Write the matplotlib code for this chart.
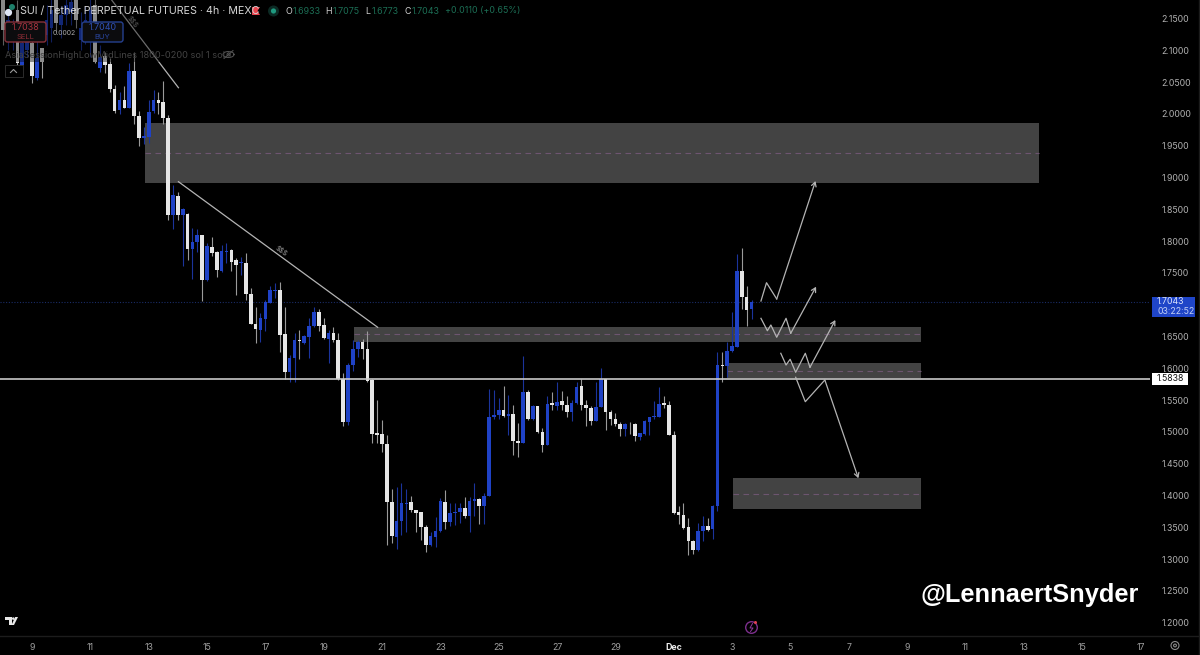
#!/usr/bin/env python3

# SUI / USDT 4h candles with supply/demand zones, dark tradingview style
import numpy as np
import matplotlib
matplotlib.use('Agg')
import matplotlib.pyplot as plt
from matplotlib.patches import Rectangle, FancyBboxPatch, Circle, Polygon

plt.rcParams['font.family'] = ['Inter', 'DejaVu Sans']

# candles. x runs in days counted from 1 Nov (Dec 1 = 31)
opens = [2.179, 2.116, 2.116, 2.163, 2.075, 2.101, 2.112, 2.057, 2.104, 2.124, 2.135, 2.179, 2.140, 2.156, 2.160, 2.179, 2.116, 2.124, 2.132, 2.171,
         2.072, 2.091, 2.079, 2.039, 2.006, 2.022, 2.010, 2.068, 1.997, 1.963, 1.964, 2.004, 2.022, 2.019, 1.993, 1.841, 1.871, 1.841,
         1.842, 1.787, 1.798, 1.809, 1.739, 1.791, 1.783, 1.753, 1.783, 1.786, 1.770, 1.765, 1.765, 1.717, 1.670, 1.661, 1.677, 1.703, 1.722, 1.723, 1.654,
         1.594, 1.616, 1.645, 1.640, 1.649, 1.666, 1.689, 1.668, 1.646, 1.656, 1.645, 1.584, 1.516, 1.605, 1.630, 1.642, 1.631,
         1.582, 1.498, 1.497, 1.481, 1.390, 1.335, 1.360, 1.387, 1.390, 1.378, 1.374, 1.350, 1.322, 1.335, 1.344, 1.390, 1.358, 1.372, 1.374, 1.381,
         1.368, 1.391, 1.394, 1.383, 1.399, 1.523, 1.526, 1.535, 1.525, 1.528, 1.486, 1.482, 1.563, 1.520, 1.541, 1.500, 1.480, 1.545, 1.541, 1.548,
         1.543, 1.531, 1.545, 1.572, 1.542, 1.538, 1.517, 1.540, 1.583, 1.532, 1.520, 1.513, 1.504, 1.513, 1.512, 1.492, 1.497, 1.516, 1.523, 1.524,
         1.545, 1.542, 1.496, 1.374, 1.370, 1.351, 1.329, 1.314, 1.344, 1.352, 1.347, 1.384, 1.605, 1.603, 1.628, 1.634, 1.753, 1.713, 1.6933]
highs = [2.19, 2.16, 2.15, 2.179, 2.132, 2.13, 2.132, 2.116, 2.104, 2.171, 2.18, 2.19, 2.17, 2.19, 2.19, 2.19, 2.16, 2.17, 2.18, 2.19,
         2.108, 2.098, 2.088, 2.046, 2.035, 2.044, 2.080, 2.098, 2.004, 1.980, 2.022, 2.038, 2.035, 2.052, 1.998, 1.888, 1.878, 1.852,
         1.845, 1.820, 1.819, 1.810, 1.797, 1.807, 1.785, 1.794, 1.797, 1.787, 1.773, 1.775, 1.781, 1.727, 1.697, 1.687, 1.708, 1.729, 1.734, 1.736, 1.697,
         1.621, 1.656, 1.660, 1.652, 1.679, 1.697, 1.693, 1.679, 1.660, 1.665, 1.655, 1.592, 1.609, 1.645, 1.645, 1.646, 1.659,
         1.583, 1.550, 1.519, 1.495, 1.411, 1.414, 1.419, 1.411, 1.400, 1.378, 1.374, 1.354, 1.343, 1.367, 1.396, 1.409, 1.388, 1.388, 1.388, 1.397,
         1.398, 1.419, 1.396, 1.404, 1.567, 1.566, 1.554, 1.572, 1.558, 1.542, 1.514, 1.619, 1.566, 1.542, 1.541, 1.506, 1.556, 1.563, 1.578, 1.565,
         1.556, 1.550, 1.579, 1.583, 1.550, 1.541, 1.579, 1.600, 1.584, 1.535, 1.530, 1.516, 1.514, 1.515, 1.514, 1.499, 1.519, 1.524, 1.549, 1.570,
         1.557, 1.549, 1.501, 1.383, 1.388, 1.365, 1.330, 1.357, 1.368, 1.365, 1.385, 1.626, 1.625, 1.642, 1.689, 1.780, 1.789, 1.729, 1.7075]
lows = [2.108, 2.10, 2.10, 2.063, 2.069, 2.09, 2.049, 2.053, 2.057, 2.108, 2.113, 2.129, 2.12, 2.14, 2.14, 2.135, 2.10, 2.11, 2.09, 2.080,
        2.066, 2.065, 2.035, 2.001, 2.000, 2.009, 2.009, 1.985, 1.949, 1.953, 1.954, 2.001, 2.000, 1.984, 1.833, 1.819, 1.833, 1.761,
        1.771, 1.740, 1.783, 1.706, 1.738, 1.776, 1.743, 1.752, 1.765, 1.753, 1.715, 1.747, 1.707, 1.669, 1.640, 1.642, 1.658, 1.702, 1.710, 1.625, 1.584,
        1.578, 1.579, 1.614, 1.639, 1.617, 1.665, 1.659, 1.646, 1.609, 1.642, 1.582, 1.509, 1.511, 1.596, 1.618, 1.614, 1.579,
        1.482, 1.482, 1.469, 1.322, 1.326, 1.316, 1.338, 1.343, 1.374, 1.343, 1.330, 1.312, 1.320, 1.319, 1.342, 1.347, 1.352, 1.354, 1.357, 1.364,
        1.342, 1.368, 1.355, 1.355, 1.399, 1.521, 1.521, 1.523, 1.495, 1.464, 1.460, 1.482, 1.519, 1.519, 1.499, 1.469, 1.480, 1.535, 1.535, 1.535,
        1.523, 1.518, 1.544, 1.534, 1.509, 1.511, 1.517, 1.540, 1.503, 1.511, 1.509, 1.494, 1.493, 1.497, 1.486, 1.488, 1.495, 1.496, 1.521, 1.523,
        1.537, 1.495, 1.371, 1.355, 1.347, 1.307, 1.308, 1.313, 1.329, 1.345, 1.331, 1.375, 1.578, 1.587, 1.626, 1.633, 1.693, 1.666, 1.6773]
closes = [2.132, 2.148, 2.14, 2.080, 2.112, 2.124, 2.060, 2.088, 2.082, 2.148, 2.163, 2.143, 2.156, 2.171, 2.176, 2.148, 2.135, 2.148, 2.163, 2.082,
          2.090, 2.077, 2.039, 2.005, 2.022, 2.010, 2.068, 1.997, 1.962, 1.965, 2.003, 2.022, 2.018, 1.993, 1.841, 1.873, 1.841, 1.850,
          1.787, 1.799, 1.809, 1.739, 1.792, 1.782, 1.755, 1.784, 1.785, 1.768, 1.763, 1.767, 1.717, 1.669, 1.662, 1.679, 1.705, 1.723, 1.724, 1.653, 1.595,
          1.617, 1.644, 1.643, 1.651, 1.667, 1.689, 1.667, 1.647, 1.656, 1.645, 1.583, 1.516, 1.606, 1.630, 1.641, 1.630, 1.580,
          1.497, 1.495, 1.481, 1.390, 1.336, 1.360, 1.388, 1.389, 1.377, 1.373, 1.350, 1.322, 1.336, 1.345, 1.392, 1.358, 1.372, 1.374, 1.381, 1.368,
          1.391, 1.394, 1.383, 1.399, 1.523, 1.526, 1.535, 1.525, 1.528, 1.486, 1.483, 1.563, 1.520, 1.541, 1.500, 1.480, 1.544, 1.543, 1.547, 1.543,
          1.531, 1.545, 1.571, 1.542, 1.538, 1.518, 1.540, 1.583, 1.532, 1.520, 1.513, 1.504, 1.512, 1.512, 1.493, 1.498, 1.517, 1.523, 1.525, 1.544,
          1.542, 1.496, 1.372, 1.370, 1.349, 1.328, 1.314, 1.345, 1.352, 1.346, 1.384, 1.605, 1.604, 1.628, 1.635, 1.753, 1.713, 1.692, 1.7043]
last_candle_day = 33 + 4 / 6

# zones: left day, right day, top price, bottom price
zone_left = [12.874, 20.04, 32.84, 33.02]
zone_right = [43.52, 39.48, 39.48, 39.48]
zone_top = [1.9858, 1.6655, 1.6080, 1.4272]
zone_bottom = [1.8915, 1.6420, 1.5853, 1.3784]

# hand drawn lines on the chart
trend1_x, trend1_y = [11.73, 14.02], [2.1792, 2.0413]
trend2_x, trend2_y = [14.02, 20.85], [1.8935, 1.6646]
pathA_x = [33.99, 34.18, 34.53, 35.86]
pathA_y = [1.7059, 1.7347, 1.7091, 1.8946]
pathB_x = [33.99, 34.21, 34.33, 34.53, 34.85, 35.01, 35.88]
pathB_y = [1.6787, 1.6592, 1.6682, 1.6489, 1.6787, 1.6551, 1.7284]
pathC_x = [34.67, 34.85, 34.99, 35.18, 35.51, 35.67, 36.54]
pathC_y = [1.6237, 1.6053, 1.6143, 1.5938, 1.6237, 1.6017, 1.6760]
pathD_x = [35.18, 35.51, 36.18, 37.33]
pathD_y = [1.5860, 1.5476, 1.5817, 1.4272]

level = 1.5838
last_price = 1.7043
y_ticks = [1.20, 1.25, 1.30, 1.35, 1.40, 1.45, 1.50, 1.55, 1.60, 1.65, 1.70, 1.75, 1.80, 1.85, 1.90, 1.95, 2.00, 2.05, 2.10, 2.15]
x_ticks = [9, 11, 13, 15, 17, 19, 21, 23, 25, 27, 29, 31, 33, 35, 37, 39, 41, 43, 45, 47]
x_labels = ['9', '11', '13', '15', '17', '19', '21', '23', '25', '27', '29', 'Dec', '3', '5', '7', '9', '11', '13', '15', '17']

BLUE = '#1f42c6'
WHITE = '#e6e6e6'
ZONE = '#434343'
GREEN = '#1c6e55'

fig = plt.figure(figsize=(12, 6.55), dpi=100, facecolor='black')
# main axes covers pixels x 0..1150, y 0..636
ax = fig.add_axes([0, 19 / 655, 1150 / 1200, 636 / 655], facecolor='black')
ax.set_xlim(9 - 32 / 29.17, 9 + 1118 / 29.17)
ax.set_ylim(2.1792 - 636 / 636, 2.1792)

o = np.array(opens)
h = np.array(highs)
l = np.array(lows)
c = np.array(closes)
n = len(o)
t = last_candle_day - (n - 1 - np.arange(n)) / 6
up = c >= o

# zones under the candles
for i in range(len(zone_left)):
    ax.add_patch(Rectangle((zone_left[i], zone_bottom[i]), zone_right[i] - zone_left[i],
                           zone_top[i] - zone_bottom[i], color=ZONE, lw=0, zorder=1))
    mid = (zone_top[i] + zone_bottom[i]) / 2
    ax.plot([zone_left[i], zone_right[i]], [mid, mid], color='#6d5570', lw=0.8, ls=(0, (5, 4)), zorder=1.5)

ax.axhline(last_price, color='#1a2c66', lw=0.8, ls=(0, (1, 1.5)), zorder=1)
ax.vlines(t[up], l[up], h[up], color='#1b349c', lw=0.8, zorder=2)
ax.vlines(t[~up], l[~up], h[~up], color='#9a9a9a', lw=0.8, zorder=2)
width = 0.125
ax.bar(t[up], (c - o)[up], bottom=o[up], width=width, color=BLUE, lw=0, zorder=3)
ax.bar(t[~up], (o - c)[~up], bottom=c[~up], width=width, color=WHITE, lw=0, zorder=3)
ax.axhline(level, color='#c8c8c8', lw=1.2, zorder=4)

line_style = dict(color='#b4b4b4', lw=0.9, zorder=6)
ax.plot(trend1_x, trend1_y, **line_style)
ax.plot(trend2_x, trend2_y, **line_style)
ax.text(12.46, 2.1462, '$$$', color='#a0a0a0', fontsize=5, rotation=-52, ha='center', va='center', zorder=6)
ax.text(17.54, 1.7861, '$$$', color='#a0a0a0', fontsize=5, rotation=-35, ha='center', va='center', zorder=6)
for px, py in [(pathA_x, pathA_y), (pathB_x, pathB_y), (pathC_x, pathC_y), (pathD_x, pathD_y)]:
    ax.plot(px[:-1], py[:-1], **line_style)
    ax.annotate('', xy=(px[-1], py[-1]), xytext=(px[-2], py[-2]), zorder=6,
                arrowprops=dict(arrowstyle='->,head_length=0.3,head_width=0.17', color='#b4b4b4', lw=0.9,
                                shrinkA=0, shrinkB=0))

ax.yaxis.tick_right()
ax.set_yticks(y_ticks)
ax.set_yticklabels(['%.4f' % v for v in y_ticks], fontsize=6.3, color='#b0b0b0')
ax.set_xticks(x_ticks)
ax.set_xticklabels(x_labels, fontsize=6.3, color='#a0a0a0')
ax.get_xticklabels()[11].set_color('#eeeeee')
ax.get_xticklabels()[11].set_fontweight('bold')
ax.tick_params(axis='both', length=0)
ax.tick_params(axis='y', pad=8)
ax.tick_params(axis='x', pad=5)
for s in ax.spines.values():
    s.set_visible(False)

# second axes in plain pixels for the tradingview chrome
ui = fig.add_axes([0, 0, 1, 1])
ui.set_xlim(0, 1200)
ui.set_ylim(655, 0)
ui.axis('off')
ui.patch.set_alpha(0)

ui.plot([0, 1198], [636, 636], color='#1c1c1c', lw=1)
ui.plot([1198.5, 1198.5], [0, 655], color='#1c1c1c', lw=1)
# legend veil dims the candles behind the header
ui.add_patch(Rectangle((0, 0), 225, 62, color='black', alpha=0.4, lw=0))

ui.add_patch(Circle((8.5, 12.5), 3.6, color='#dfe6f5', lw=0))
ui.add_patch(Circle((12, 7), 3, color='#1d7f6a', lw=0, zorder=1))
ui.text(20, 11, 'SUI / Tether PERPETUAL FUTURES · 4h · MEXC', color='#d6d6d6', fontsize=7.7, va='center')
ui.add_patch(Polygon([(252, 7), (260, 7), (257.5, 11), (260, 15), (252, 15)], color='#e8434d', lw=0))
ui.add_patch(Circle((273.5, 11), 5.5, color='#0c2a24', lw=0))
ui.add_patch(Circle((273.5, 11), 2.6, color='#1f9a80', lw=0))

for px, s, col in [(285, 'O', '#cfcfcf'), (293, '1.6933', GREEN), (325, 'H', '#cfcfcf'), (333, '1.7075', GREEN),
                   (365.5, 'L', '#cfcfcf'), (372, '1.6773', GREEN), (404.5, 'C', '#cfcfcf'), (412, '1.7043', GREEN),
                   (445, '+0.0110 (+0.65%)', GREEN)]:
    ui.text(px, 11, s, color=col, fontsize=6.4, va='center')

ui.add_patch(FancyBboxPatch((5, 22), 41, 20, boxstyle='round,pad=0,rounding_size=2.5', fc='#0c0c0e', ec='#86303a', lw=1))
ui.add_patch(FancyBboxPatch((82, 22), 41, 20, boxstyle='round,pad=0,rounding_size=2.5', fc='#0c0c0e', ec='#25408f', lw=1))
ui.text(25.5, 27.5, '1.7038', color='#a8343f', fontsize=6.4, ha='center', va='center')
ui.text(25.5, 37, 'SELL', color='#8c2c36', fontsize=5.5, ha='center', va='center')
ui.text(102.5, 27.5, '1.7040', color='#2f50b4', fontsize=6.4, ha='center', va='center')
ui.text(102.5, 37, 'BUY', color='#2a46a0', fontsize=5.5, ha='center', va='center')
ui.text(64, 33, '0.0002', color='#a8a8a8', fontsize=5, ha='center', va='center')
ui.text(5, 55, 'AsiaSessionHighLowMidLines 1800-0200 sol 1 sol 1', color='#424242', fontsize=6.7, va='center')

# eye icon and collapse button
theta = np.linspace(0, 2 * np.pi, 40)
ui.plot(228.5 + 5.5 * np.cos(theta), 54.5 + 3 * np.sin(theta), color='#555555', lw=0.7)
ui.add_patch(Circle((228.5, 54.5), 1.5, fc='none', ec='#555555', lw=0.7))
ui.plot([224, 233], [58.5, 50.5], color='#555555', lw=0.7)
ui.add_patch(Rectangle((4.5, 65), 18, 12, fc='black', ec='#2c2c2c', lw=0.7))
ui.plot([10.5, 13.5, 16.5], [72.5, 69.5, 72.5], color='#9a9a9a', lw=0.8)

# price labels
ui.add_patch(Rectangle((1152, 297), 43, 20, color='#1f45c8', lw=0))
ui.text(1157, 302, '1.7043', color='#dde4fa', fontsize=6.3, va='center')
ui.text(1157, 311.5, '03:22:52', color='#c3cff5', fontsize=6.3, va='center')
ui.add_patch(Rectangle((1152, 373), 36, 11.5, color='white', lw=0))
ui.text(1170, 378.8, '%.4f' % level, color='#111111', fontsize=6.3, ha='center', va='center')

# logo, lightning badge, settings
ui.add_patch(Polygon([(5, 617), (12, 617), (12, 625), (9, 625), (9, 620), (5, 620)], color='#e8e8e8', lw=0))
ui.add_patch(Circle((13.3, 618.6), 1.3, color='#e8e8e8', lw=0))
ui.add_patch(Polygon([(18, 617), (14, 625), (11.5, 625), (15.2, 617)], color='#e8e8e8', lw=0))
ui.add_patch(Circle((751.5, 627.5), 5.8, fc='none', ec='#7c2f8c', lw=1))
ui.plot([752.5, 750, 753, 750.5], [623.5, 628, 628, 631.5], color='#8a3a9a', lw=0.7)
ui.add_patch(Circle((755.5, 622.5), 1.5, color='#e0404f', lw=0))
ui.add_patch(Circle((1175, 645.5), 4, fc='none', ec='#8a8a8a', lw=0.8))
ui.add_patch(Circle((1175, 645.5), 1.4, fc='none', ec='#8a8a8a', lw=0.8))

ui.text(1030, 595, '@LennaertSnyder', color='white', fontsize=18.3, fontweight='bold',
        family='Liberation Sans', ha='center', va='center')

fig.savefig('out.png', dpi=100, facecolor='black')
